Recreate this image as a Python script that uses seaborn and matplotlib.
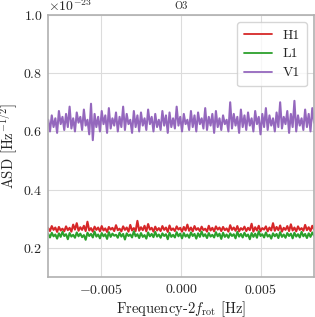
import numpy as np
import pandas as pd
import matplotlib
matplotlib.use("Agg")
import matplotlib.pyplot as plt
import seaborn as sns

# ---------------- data (ASD in units of 1e-23 Hz^-1/2) ----------------
f_min, f_max = -0.00833, 0.00833
n_pts = 150
labels = ["H1", "L1", "V1"]
colors = ["#d62728", "#2ca02c", "#9467bd"]
xticks = [-0.005, 0.0, 0.005]
yticks = [0.2, 0.4, 0.6, 0.8, 1.0]

V1 = [
    0.640, 0.600, 0.655, 0.615, 0.645, 0.595, 0.670, 0.625, 0.650, 0.605,
    0.660, 0.615, 0.685, 0.610, 0.645, 0.600, 0.665, 0.630, 0.650, 0.605,
    0.675, 0.620, 0.640, 0.590, 0.695, 0.570, 0.660, 0.615, 0.650, 0.600,
    0.670, 0.625, 0.655, 0.595, 0.680, 0.610, 0.645, 0.620, 0.665, 0.600,
    0.650, 0.615, 0.685, 0.605, 0.660, 0.625, 0.640, 0.595, 0.670, 0.615,
    0.655, 0.600, 0.665, 0.620, 0.645, 0.605, 0.675, 0.625, 0.650, 0.600,
    0.660, 0.615, 0.640, 0.605, 0.670, 0.620, 0.655, 0.595, 0.665, 0.615,
    0.645, 0.610, 0.685, 0.620, 0.650, 0.600, 0.660, 0.625, 0.640, 0.605,
    0.670, 0.615, 0.655, 0.600, 0.665, 0.625, 0.645, 0.610, 0.680, 0.605,
    0.650, 0.620, 0.660, 0.595, 0.670, 0.615, 0.645, 0.605, 0.655, 0.625,
    0.640, 0.600, 0.700, 0.610, 0.660, 0.620, 0.650, 0.595, 0.675, 0.615,
    0.655, 0.605, 0.665, 0.620, 0.645, 0.600, 0.670, 0.625, 0.650, 0.590,
    0.660, 0.615, 0.680, 0.605, 0.655, 0.620, 0.645, 0.600, 0.665, 0.615,
    0.700, 0.610, 0.650, 0.625, 0.670, 0.595, 0.660, 0.615, 0.705, 0.600,
    0.655, 0.620, 0.645, 0.605, 0.675, 0.615, 0.660, 0.600, 0.680, 0.630,
]

H1 = [
    0.268, 0.258, 0.275, 0.262, 0.270, 0.255, 0.272, 0.260, 0.266, 0.257,
    0.274, 0.261, 0.269, 0.256, 0.280, 0.263, 0.285, 0.259, 0.271, 0.262,
    0.276, 0.258, 0.290, 0.260, 0.268, 0.256, 0.273, 0.262, 0.270, 0.257,
    0.275, 0.260, 0.267, 0.255, 0.272, 0.263, 0.269, 0.258, 0.278, 0.261,
    0.266, 0.257, 0.274, 0.262, 0.270, 0.256, 0.279, 0.260, 0.268, 0.258,
    0.293, 0.259, 0.271, 0.261, 0.276, 0.257, 0.282, 0.263, 0.269, 0.256,
    0.273, 0.260, 0.268, 0.258, 0.275, 0.262, 0.270, 0.255, 0.277, 0.261,
    0.267, 0.258, 0.274, 0.263, 0.269, 0.256, 0.272, 0.260, 0.280, 0.259,
    0.270, 0.257, 0.275, 0.262, 0.268, 0.258, 0.273, 0.261, 0.266, 0.256,
    0.276, 0.260, 0.269, 0.257, 0.274, 0.263, 0.270, 0.258, 0.272, 0.261,
    0.267, 0.256, 0.278, 0.262, 0.270, 0.259, 0.275, 0.257, 0.268, 0.262,
    0.273, 0.258, 0.269, 0.261, 0.283, 0.256, 0.271, 0.260, 0.276, 0.258,
    0.268, 0.263, 0.274, 0.257, 0.270, 0.260, 0.285, 0.259, 0.272, 0.261,
    0.277, 0.256, 0.269, 0.262, 0.275, 0.258, 0.281, 0.260, 0.270, 0.257,
    0.274, 0.262, 0.268, 0.259, 0.279, 0.261, 0.271, 0.258, 0.276, 0.263,
]

L1 = [
    0.248, 0.236, 0.252, 0.240, 0.246, 0.232, 0.250, 0.238, 0.255, 0.241,
    0.247, 0.230, 0.251, 0.239, 0.245, 0.235, 0.253, 0.240, 0.249, 0.237,
    0.244, 0.228, 0.252, 0.241, 0.248, 0.236, 0.256, 0.239, 0.246, 0.233,
    0.251, 0.240, 0.247, 0.231, 0.254, 0.238, 0.249, 0.242, 0.245, 0.235,
    0.252, 0.239, 0.248, 0.229, 0.250, 0.241, 0.246, 0.236, 0.257, 0.240,
    0.247, 0.234, 0.251, 0.238, 0.244, 0.232, 0.253, 0.240, 0.248, 0.237,
    0.255, 0.239, 0.246, 0.235, 0.250, 0.241, 0.247, 0.230, 0.252, 0.238,
    0.245, 0.236, 0.254, 0.240, 0.249, 0.233, 0.251, 0.239, 0.246, 0.235,
    0.253, 0.241, 0.248, 0.232, 0.250, 0.238, 0.256, 0.240, 0.247, 0.234,
    0.251, 0.239, 0.245, 0.236, 0.254, 0.240, 0.249, 0.231, 0.252, 0.238,
    0.246, 0.235, 0.250, 0.241, 0.247, 0.233, 0.255, 0.239, 0.248, 0.236,
    0.252, 0.240, 0.246, 0.230, 0.251, 0.238, 0.249, 0.235, 0.257, 0.241,
    0.247, 0.236, 0.253, 0.239, 0.245, 0.232, 0.250, 0.240, 0.248, 0.234,
    0.254, 0.238, 0.246, 0.235, 0.251, 0.241, 0.249, 0.233, 0.252, 0.239,
    0.247, 0.236, 0.255, 0.240, 0.248, 0.234, 0.250, 0.238, 0.253, 0.242,
]

freq = np.linspace(f_min, f_max, n_pts)
series = {"H1": H1, "L1": L1, "V1": V1}
df = pd.concat(
    [pd.DataFrame({"freq": freq, "asd": np.array(v) * 1e-23, "det": k})
     for k, v in series.items()],
    ignore_index=True,
)

# ---------------- style ----------------
sns.set_style("whitegrid", {"axes.edgecolor": "#b0b0b0", "grid.color": "#dcdcdc"})
plt.rcParams["font.family"] = "serif"
plt.rcParams["font.serif"] = ["cmr10"]
plt.rcParams["mathtext.fontset"] = "cm"
plt.rcParams["axes.formatter.use_mathtext"] = True
plt.rcParams["axes.unicode_minus"] = True

fig = plt.figure(figsize=(3.15, 3.17), dpi=100)
ax = fig.add_axes([0.153, 0.126, 0.844, 0.827])

for lab, col in zip(labels, colors):
    sub = df[df["det"] == lab]
    sns.lineplot(data=sub, x="freq", y="asd", color=col, lw=1.5,
                 label=lab, ax=ax, estimator=None, sort=False)

ax.set_xlim(f_min, f_max)
ax.set_ylim(0.1e-23, 1.0e-23)
ax.set_xticks(xticks)
ax.set_yticks([t * 1e-23 for t in yticks])
ax.tick_params(labelsize=10, length=0, pad=4)
for sp in ax.spines.values():
    sp.set_linewidth(1.2)
ax.yaxis.get_offset_text().set_fontsize(10)

ax.set_xlabel(r"Frequency-2$f_{\rm rot}$ [Hz]", fontsize=10.5, labelpad=2)
ax.set_ylabel(r"ASD [Hz$^{-1/2}$]", fontsize=10.5, labelpad=3)
ax.set_title("O3", fontsize=7.5, pad=4)

leg = ax.legend(loc="upper right", fontsize=10, frameon=True,
                handlelength=2.0, borderpad=0.5, labelspacing=0.45)
leg.get_frame().set_edgecolor("#cccccc")
for ln in leg.get_lines():
    ln.set_linewidth(1.3)

fig.savefig("out.png", dpi=100)
